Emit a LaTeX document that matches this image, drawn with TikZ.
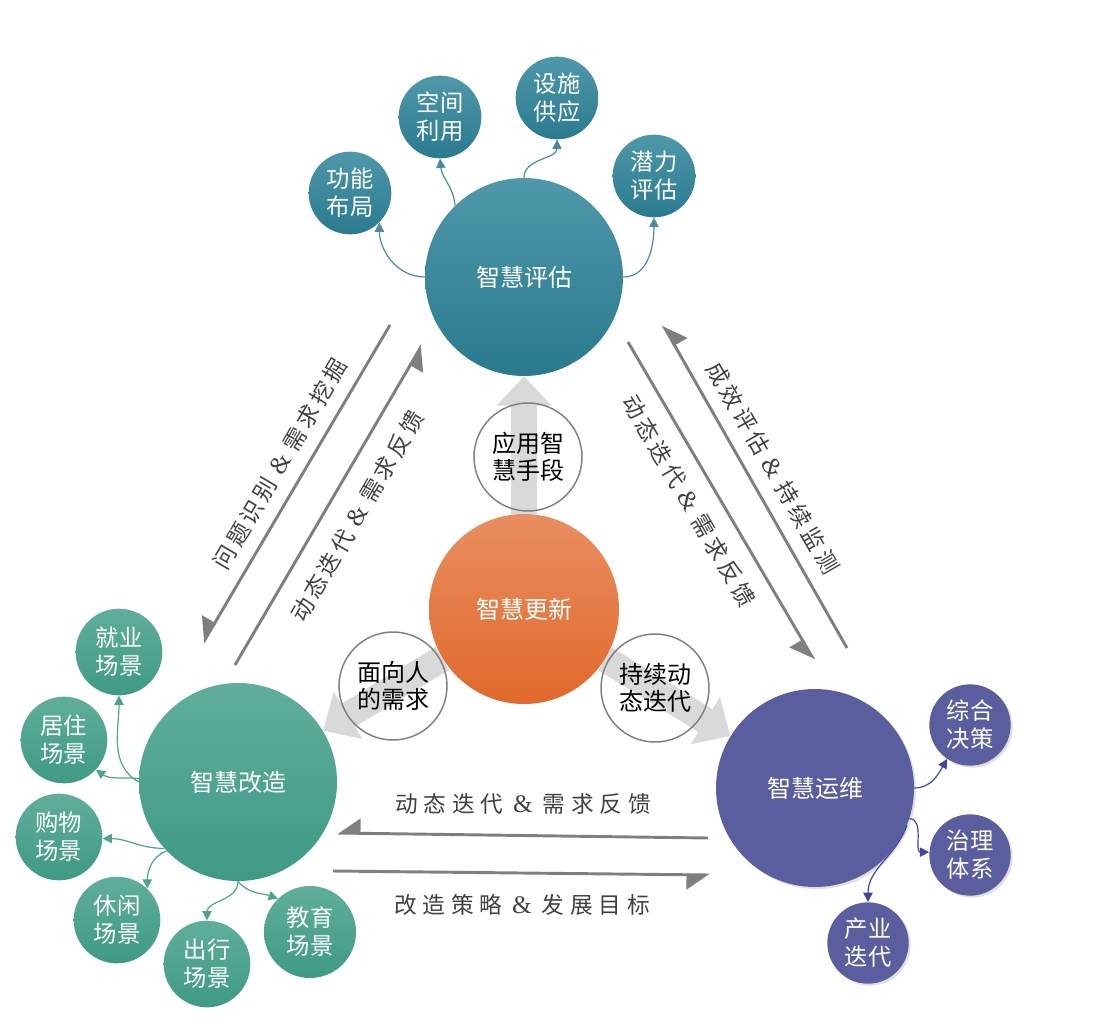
\documentclass[tikz,border=0pt]{standalone}
\usepackage{fontspec}
\setmainfont{Liberation Serif}
\newfontfamily\cjk{Noto Sans CJK SC}
\usetikzlibrary{arrows.meta,shadows}
\pgfdeclarelayer{bg}
\pgfsetlayers{bg,main}
\definecolor{tealT}{HTML}{4E98A9}
\definecolor{tealB}{HTML}{2A7A8E}
\definecolor{tealL}{HTML}{4A8C9E}
\definecolor{greenT}{HTML}{5FAE9B}
\definecolor{greenB}{HTML}{3F9A85}
\definecolor{greenL}{HTML}{4FA28D}
\definecolor{purp}{HTML}{5B5E9E}
\definecolor{purpL}{HTML}{3E47A2}
\definecolor{orT}{HTML}{EA8E60}
\definecolor{orB}{HTML}{E0692B}
\definecolor{lgray}{HTML}{D9D9D9}
\definecolor{mgray}{HTML}{7F7F7F}
\definecolor{tgray}{HTML}{404040}
\newcommand\ksH{\hspace{4.3pt}}
\newcommand\ampH{\hspace{7.5pt}{\rmfamily\fontsize{19}{20}\selectfont\&}\hspace{7.5pt}}
\newcommand\ksD{\hspace{2.8pt}}
\newcommand\ampD{\hspace{6pt}{\rmfamily\fontsize{19}{20}\selectfont\&}\hspace{6pt}}
\begin{document}
\begin{tikzpicture}[x=0.75pt,y=0.75pt,
  bigc/.style={circle,inner sep=0pt,minimum size=148.5pt,text=white,
    font=\cjk\fontsize{18}{22}\selectfont},
  satc/.style={circle,inner sep=0pt,minimum size=62pt,text=white,align=center,
    font=\cjk\fontsize{17.5}{21}\selectfont},
  labc/.style={circle,inner sep=0pt,minimum size=81pt,draw=mgray,line width=1.1pt,
    align=center,text=black,font=\cjk\fontsize{18}{20.5}\selectfont},
  tealsh/.style={top color=tealT,bottom color=tealB},
  greensh/.style={top color=greenT,bottom color=greenB},
  orsh/.style={top color=orT,bottom color=orB},
  purpsh/.style={fill=purp,drop shadow={shadow xshift=1.5pt,shadow yshift=-1.5pt,opacity=0.25}},
  bigarr/.style={draw=lgray,line width=20pt,-{Triangle[length=22pt,width=40pt]}},
  linarr/.style={draw=mgray,line width=2.2pt,-{Triangle[right,length=16pt,width=22pt]}},
  lintxtH/.style={text=tgray,font=\cjk\fontsize{17}{20}\selectfont,inner sep=0pt},
  lintxtD/.style={text=tgray,font=\cjk\fontsize{17}{20}\selectfont,inner sep=0pt},
  tconn/.style={draw=tealL,line width=0.9pt,-{Triangle[length=7pt,width=7pt]}},
  gconn/.style={draw=greenL,line width=0.9pt,-{Triangle[length=7pt,width=7pt]}},
  pconn/.style={draw=purpL,line width=0.9pt,-{Triangle[length=7pt,width=7pt]}}
]
\useasboundingbox (0,0) rectangle (1103,-1031);

% main circles
\node[bigc,tealsh] (pg) at (524,-277) {智慧评估};
\node[bigc,orsh,minimum size=142.5pt] (gx) at (524,-609) {智慧更新};
\node[bigc,greensh] (gz) at (238,-782) {智慧改造};
\node[bigc,purpsh] (yw) at (815,-788) {智慧运维};

% top satellites
\node[satc,tealsh] (gnbj) at (350,-193) {功能\\布局};
\node[satc,tealsh] (kjly) at (440,-117) {空间\\利用};
\node[satc,tealsh] (sszy) at (557,-98) {设施\\供应};
\node[satc,tealsh] (qlpg) at (654,-176) {潜力\\评估};

% green satellites
\node[satc,greensh,minimum size=65pt] (jiuye) at (119,-652) {就业\\场景};
\node[satc,greensh,minimum size=65pt] (juzhu) at (64,-740) {居住\\场景};
\node[satc,greensh,minimum size=65pt] (gouwu) at (59,-837) {购物\\场景};
\node[satc,greensh,minimum size=65pt] (xiuxian) at (117,-920) {休闲\\场景};
\node[satc,greensh,minimum size=65pt] (chuxing) at (207,-964) {出行\\场景};
\node[satc,greensh,minimum size=69pt] (jiaoyu) at (310,-932) {教育\\场景};

% purple satellites
\node[satc,purpsh,minimum size=61pt] (zhjc) at (970,-725) {综合\\决策};
\node[satc,purpsh,minimum size=61pt] (zltx) at (970,-855) {治理\\体系};
\node[satc,purpsh,minimum size=61pt] (cydd) at (868,-943) {产业\\迭代};

% label circles
\node[labc] (l1) at (528,-457) {应用智\\慧手段};
\node[labc] (l2) at (393,-686) {面向人\\的需求};
\node[labc] (l3) at (655,-688) {持续动\\态迭代};

% big gray arrows
\begin{pgfonlayer}{bg}
\draw[bigarr] (gx) -- (pg);
\draw[bigarr] (gx) -- (gz);
\draw[bigarr] (gx) -- (yw);
\end{pgfonlayer}

% satellite connectors
\draw[tconn] (pg.180) to[out=180,in=-90] (gnbj.-45);
\draw[tconn] (pg.134) to[out=95,in=-85] (kjly.-90);
\draw[tconn] (pg.90) to[out=90,in=-90] (sszy.-90);
\draw[tconn] (pg.0) to[out=0,in=-90] (qlpg.-90);

\draw[gconn] (gz.180) to[out=150,in=-90] (jiuye.-90);
\draw[gconn] (gz.178) to[out=175,in=-35] (juzhu.-43);
\draw[gconn] (gz.-138) to[out=180,in=0] (gouwu.-2);
\draw[gconn] (gz.-136) to[out=200,in=90] (xiuxian.46);
\draw[gconn] (gz.-90) to[out=-90,in=90] (chuxing.90);
\draw[gconn] (gz.-90) to[out=-50,in=160] (jiaoyu.134);

\draw[pconn] (yw.0) to[out=0,in=-120] (zhjc.-124);
\draw[pconn] (yw.-18) to[out=0,in=180] (zltx.176);
\draw[pconn] (yw.-22) to[out=-110,in=90] (cydd.90);

% line arrows
\coordinate (a1s) at (390,-325); \coordinate (a1e) at (203,-643);
\coordinate (a2s) at (235,-665); \coordinate (a2e) at (422,-345);
\coordinate (a3s) at (628,-342); \coordinate (a3e) at (814,-660);
\coordinate (a4s) at (847,-648); \coordinate (a4e) at (663,-325);
\coordinate (a5s) at (708,-838); \coordinate (a5e) at (337,-833);
\coordinate (a6s) at (333,-871); \coordinate (a6e) at (710,-875);
\draw[linarr] (a1s) -- (a1e);
\draw[linarr] (a2s) -- (a2e);
\draw[linarr] (a3s) -- (a3e);
\draw[linarr] (a4s) -- (a4e);
\draw[linarr] (a5s) -- (a5e);
\draw[linarr] (a6s) -- (a6e);

% line labels
\node[lintxtD,rotate=59.5] (t1) at (280,-464) {问\ksD 题\ksD 识\ksD 别\ampD 需\ksD 求\ksD 挖\ksD 掘};
\node[lintxtD,rotate=59.7] (t2) at (357,-516) {动\ksD 态\ksD 迭\ksD 代\ampD 需\ksD 求\ksD 反\ksD 馈};
\node[lintxtD,rotate=-59.7] (t3) at (689,-501) {动\ksD 态\ksD 迭\ksD 代\ampD 需\ksD 求\ksD 反\ksD 馈};
\node[lintxtD,rotate=-60] (t4) at (773,-468) {成\ksD 效\ksD 评\ksD 估\ampD 持\ksD 续\ksD 监\ksD 测};
\node[lintxtH] (t5) at (523,-804) {动\ksH 态\ksH 迭\ksH 代\ampH 需\ksH 求\ksH 反\ksH 馈};
\node[lintxtH] (t6) at (522,-905) {改\ksH 造\ksH 策\ksH 略\ampH 发\ksH 展\ksH 目\ksH 标};
\end{tikzpicture}
\end{document}
